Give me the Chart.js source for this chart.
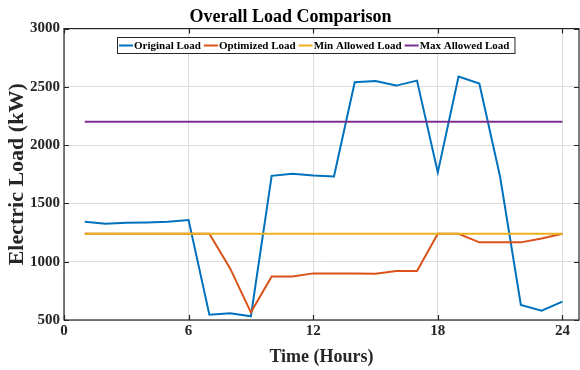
<!DOCTYPE html>
<html>
<head>
<meta charset="utf-8">
<script src="https://cdn.jsdelivr.net/npm/chart.js@4/dist/chart.umd.min.js"></script>
<style>
  html, body { margin: 0; padding: 0; background: #fff; }
  #wrap { width: 580px; height: 370px; }
</style>
</head>
<body>
<div id="wrap"><canvas id="loadChart" width="580" height="370"></canvas></div>
<script>
// hours 1..24
const hours = [1,2,3,4,5,6,7,8,9,10,11,12,13,14,15,16,17,18,19,20,21,22,23,24];

const originalLoad = [1343,1325,1334,1337,1343,1357,545,558,532,1737,1754,1740,1731,2540,2551,2511,2554,1766,2589,2529,1729,629,580,657];
const optimizedLoad = [1240,1240,1240,1240,1240,1240,1240,943,566,874,874,900,900,900,897,920,920,1240,1240,1166,1166,1166,1200,1240];
const minAllowed = [1240,1240,1240,1240,1240,1240,1240,1240,1240,1240,1240,1240,1240,1240,1240,1240,1240,1240,1240,1240,1240,1240,1240,1240];
const maxAllowed = [2200,2200,2200,2200,2200,2200,2200,2200,2200,2200,2200,2200,2200,2200,2200,2200,2200,2200,2200,2200,2200,2200,2200,2200];

const xTicks = [0, 6, 12, 18, 24];
const yTicks = [500, 1000, 1500, 2000, 2500, 3000];

const serif = "'Liberation Serif', 'Times New Roman', serif";

function pts(vals) {
  return hours.map((h, i) => ({ x: h, y: vals[i] }));
}

// order: later series sit on top (like MATLAB hold on)
function series(label, vals, color, order) {
  return {
    label: label,
    data: pts(vals),
    borderColor: color,
    backgroundColor: color,
    borderWidth: 2,
    pointRadius: 0,
    tension: 0,
    fill: false,
    order: order
  };
}

// box around the plot, inward ticks, and the legend inside the axes
const matlabLook = {
  id: "matlabLook",
  afterDraw(chart) {
    const ctx = chart.ctx;
    const a = chart.chartArea;
    const xs = chart.scales.x, ys = chart.scales.y;
    ctx.save();
    ctx.strokeStyle = "#262626";
    ctx.lineWidth = 1.2;
    ctx.strokeRect(a.left, a.top, a.right - a.left, a.bottom - a.top);

    ctx.beginPath();
    xTicks.forEach(v => {
      const px = Math.round(xs.getPixelForValue(v)) + 0.5;
      ctx.moveTo(px, a.bottom); ctx.lineTo(px, a.bottom - 5);
      ctx.moveTo(px, a.top); ctx.lineTo(px, a.top + 5);
    });
    yTicks.forEach(v => {
      const py = Math.round(ys.getPixelForValue(v)) + 0.5;
      ctx.moveTo(a.left, py); ctx.lineTo(a.left + 5, py);
      ctx.moveTo(a.right, py); ctx.lineTo(a.right - 5, py);
    });
    ctx.stroke();

    // legend
    ctx.font = "bold 11px " + serif;
    const sw = 14, gap = 1, sep = 3;
    const items = chart.data.datasets.map(d => ({ label: d.label, color: d.borderColor, w: ctx.measureText(d.label).width }));
    let total = 4;
    items.forEach(it => { total += sw + gap + it.w + sep; });
    const boxL = 117, boxT = 37, boxH = 16;
    ctx.fillStyle = "#fff";
    ctx.fillRect(boxL, boxT, total, boxH);
    ctx.strokeStyle = "#262626";
    ctx.lineWidth = 1;
    ctx.strokeRect(boxL + 0.5, boxT + 0.5, total, boxH);
    let x = boxL + 2;
    const cy = boxT + boxH / 2 + 0.5;
    items.forEach(it => {
      ctx.strokeStyle = it.color;
      ctx.lineWidth = 2;
      ctx.beginPath();
      ctx.moveTo(x, cy); ctx.lineTo(x + sw, cy);
      ctx.stroke();
      x += sw + gap;
      ctx.fillStyle = "#000";
      ctx.textBaseline = "middle";
      ctx.fillText(it.label, x, cy + 1);
      x += it.w + sep;
    });
    ctx.restore();
  }
};

new Chart(document.getElementById("loadChart"), {
  type: "line",
  data: {
    datasets: [
      series("Original Load", originalLoad, "#0072BD", 4),
      series("Optimized Load", optimizedLoad, "#D95319", 3),
      series("Min Allowed Load", minAllowed, "#EDB120", 2),
      series("Max Allowed Load", maxAllowed, "#7E2F8E", 1)
    ]
  },
  options: {
    responsive: false,
    animation: false,
    layout: { padding: { left: 2, right: 1, top: 0, bottom: 0 } },
    plugins: {
      legend: { display: false },
      tooltip: { enabled: false },
      title: {
        display: true,
        text: "Overall Load Comparison",
        color: "#000",
        font: { family: serif, size: 18, weight: "bold" },
        padding: { top: 7, bottom: 0 }
      }
    },
    scales: {
      x: {
        type: "linear",
        min: 0,
        max: 24.8,
        afterBuildTicks: s => { s.ticks = xTicks.map(v => ({ value: v })); },
        afterFit: s => { s.height = 50; },
        grid: { color: "#dcdcdc", drawTicks: false },
        border: { display: false },
        ticks: {
          color: "#262626",
          padding: 2,
          maxRotation: 0,
          callback: v => String(v),
          font: { family: serif, size: 15, weight: "bold" }
        },
        title: {
          display: true,
          text: "Time (Hours)",
          color: "#262626",
          padding: { top: 2, bottom: 2 },
          font: { family: serif, size: 18, weight: "bold" }
        }
      },
      y: {
        min: 500,
        max: 3000,
        afterBuildTicks: s => { s.ticks = yTicks.map(v => ({ value: v })); },
        afterFit: s => { s.width = 62; },
        grid: { color: "#dcdcdc", drawTicks: false },
        border: { display: false },
        ticks: {
          color: "#262626",
          padding: 4,
          callback: v => String(v),
          font: { family: serif, size: 15, weight: "bold" }
        },
        title: {
          display: true,
          text: "Electric Load (kW)",
          color: "#262626",
          padding: { top: 2, bottom: 0 },
          font: { family: serif, size: 22, weight: "bold" }
        }
      }
    }
  },
  plugins: [matlabLook]
});
</script>
</body>
</html>
